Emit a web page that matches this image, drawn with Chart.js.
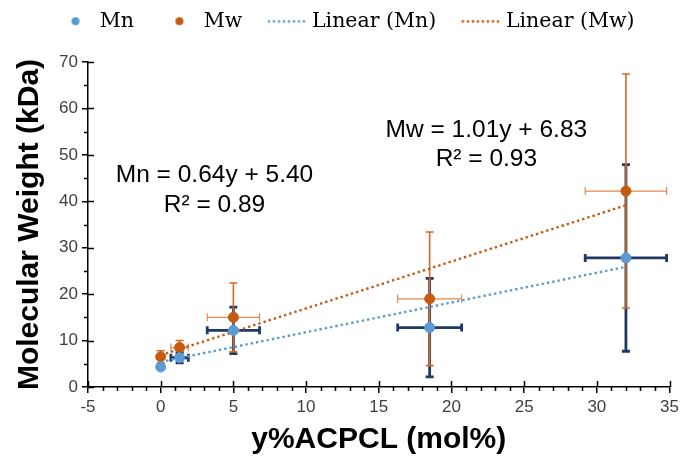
<!DOCTYPE html>
<html>
<head>
<meta charset="utf-8">
<script src="https://cdn.jsdelivr.net/npm/chart.js@4"></script>
<style>
  html, body { margin: 0; padding: 0; background: #fff; }
  #wrap { width: 683px; height: 458px; }
</style>
</head>
<body>
<div id="wrap"><canvas id="mwChart" width="683" height="458"></canvas></div>
<script>
// Molecular weight vs ACPCL content, with error bars and linear fits

const xValues = [0, 1.3, 5, 18.5, 32];           // y%ACPCL (mol%)
const mnValues = [4.3, 6.3, 12.2, 12.8, 27.8];   // Mn (kDa)
const mwValues = [6.5, 8.5, 15.0, 19.0, 42.2];   // Mw (kDa)
const xErrors = [0, 0.6, 1.8, 2.2, 2.8];         // +/- mol%
const mnYErrors = [0, 1.1, 5.0, 10.6, 20.1];     // +/- kDa
const mwYErrors = [1.3, 1.5, 7.4, 14.4, 25.2];   // +/- kDa

// Excel trendlines as printed on the chart
const mnFit = { slope: 0.64, intercept: 5.40, r2: "0.89" };
const mwFit = { slope: 1.01, intercept: 6.83, r2: "0.93" };
const fitRange = [0, 32];

const xTicks = [-5, 0, 5, 10, 15, 20, 25, 30, 35];
const yTicks = [0, 10, 20, 30, 40, 50, 60, 70];

const BLUE = "#5B9BD5";
const ORANGE = "#C55A11";
const NAVY = "#1F3864";

const toPoints = (ys) => xValues.map((x, i) => ({ x: x, y: ys[i] }));
const fitLine = (f) => fitRange.map(x => ({ x: x, y: f.slope * x + f.intercept }));

// small canvases used as legend symbols
const dotIcon = (color) => {
    const c = document.createElement("canvas");
    c.width = 12; c.height = 12;
    const g = c.getContext("2d");
    g.fillStyle = color;
    g.beginPath();
    g.arc(6, 6, 4, 0, Math.PI * 2);
    g.fill();
    return c;
};
const dotLineIcon = (color) => {
    // wider than the legend box so the dotted line sits close to its text
    const c = document.createElement("canvas");
    c.width = 76; c.height = 6;
    const g = c.getContext("2d");
    g.fillStyle = color;
    for (let x = 18; x < 56; x += 5) g.fillRect(x, 2, 2.4, 2.4);
    return c;
};

// legend spacing tweaks: gap below it and a small shift to the right
const legendSpacePlugin = {
    id: "legendSpace",
    beforeInit(chart) {
        const legend = chart.legend;
        const fit = legend.fit;
        legend.fit = function () {
            fit.bind(legend)();
            this.height = 82.5;
        };
        const draw = legend.draw;
        legend.draw = function () {
            const c = chart.ctx;
            c.save();
            c.translate(12, 0);
            draw.bind(legend)();
            c.restore();
        };
    }
};

// error bars drawn through the chart scales, Mn first then Mw
const errorBarPlugin = {
    id: "errorBars",
    beforeDatasetsDraw(chart) {
        const { ctx, scales: { x, y } } = chart;
        const drawSet = (ys, yErr, colorV, widthV, colorH, widthH, cap) => {
            ctx.save();
            ctx.lineCap = "butt";
            xValues.forEach((xv, i) => {
                const px = x.getPixelForValue(xv);
                const py = y.getPixelForValue(ys[i]);
                if (xErrors[i] > 0) {
                    const l = x.getPixelForValue(xv - xErrors[i]);
                    const r = x.getPixelForValue(xv + xErrors[i]);
                    ctx.strokeStyle = colorH; ctx.lineWidth = widthH;
                    ctx.beginPath();
                    ctx.moveTo(l, py); ctx.lineTo(r, py);
                    ctx.moveTo(l, py - cap); ctx.lineTo(l, py + cap);
                    ctx.moveTo(r, py - cap); ctx.lineTo(r, py + cap);
                    ctx.stroke();
                }
                if (yErr[i] > 0) {
                    const t = y.getPixelForValue(ys[i] + yErr[i]);
                    const b = y.getPixelForValue(ys[i] - yErr[i]);
                    ctx.strokeStyle = colorV; ctx.lineWidth = widthV;
                    ctx.beginPath();
                    ctx.moveTo(px, t); ctx.lineTo(px, b);
                    ctx.moveTo(px - cap, t); ctx.lineTo(px + cap, t);
                    ctx.moveTo(px - cap, b); ctx.lineTo(px + cap, b);
                    ctx.stroke();
                }
            });
            ctx.restore();
        };
        drawSet(mnValues, mnYErrors, NAVY, 2.8, NAVY, 2.8, 4);
        drawSet(mwValues, mwYErrors, "#D26A26", 1.6, "#E08A50", 1.2, 4);
    }
};

// inner half of major ticks and small minor ticks, like the Excel axes
const axisTickPlugin = {
    id: "axisTicks",
    afterDraw(chart) {
        const { ctx, scales: { x, y } } = chart;
        const axisY = y.getPixelForValue(0);
        const axisX = x.getPixelForValue(-5);
        ctx.save();
        ctx.strokeStyle = "#000";
        ctx.lineWidth = 1.5;
        ctx.beginPath();
        for (let v = -5; v <= 35; v += 1) {
            const px = Math.round(x.getPixelForValue(v)) + 0.5;
            if (v % 5 === 0) {
                ctx.moveTo(px, axisY); ctx.lineTo(px, axisY - 6);
            } else {
                ctx.moveTo(px, axisY); ctx.lineTo(px, axisY + 4);
            }
        }
        for (let v = 0; v <= 70; v += 5) {
            const py = Math.round(y.getPixelForValue(v)) + 0.5;
            if (v % 10 === 0) {
                ctx.moveTo(axisX, py); ctx.lineTo(axisX + 6, py);
            } else {
                ctx.moveTo(axisX, py); ctx.lineTo(axisX - 4, py);
            }
        }
        ctx.stroke();
        ctx.restore();
    }
};

// fit equations placed in data coordinates
const equationPlugin = {
    id: "equations",
    afterDraw(chart) {
        const { ctx, scales: { x, y } } = chart;
        ctx.save();
        ctx.fillStyle = "#000";
        ctx.font = "24.5px 'Liberation Sans', Arial, sans-serif";
        ctx.textAlign = "center";
        ctx.textBaseline = "middle";
        const put = (txt, xv, yv) => ctx.fillText(txt, x.getPixelForValue(xv), y.getPixelForValue(yv));
        put("Mn = " + mnFit.slope.toFixed(2) + "y + " + mnFit.intercept.toFixed(2), 3.7, 45.6);
        put("R² = " + mnFit.r2, 3.7, 39.1);
        put("Mw = " + mwFit.slope.toFixed(2) + "y + " + mwFit.intercept.toFixed(2), 22.4, 55.4);
        put("R² = " + mwFit.r2, 22.4, 49.0);
        ctx.restore();
    }
};

const ctx = document.getElementById("mwChart").getContext("2d");
const mwChart = new Chart(ctx, {
    type: "scatter",
    data: {
        datasets: [
            {
                label: "Mn",
                data: toPoints(mnValues),
                backgroundColor: BLUE,
                borderColor: BLUE,
                pointRadius: 5,
                pointStyle: "circle",
                order: 1
            },
            {
                label: "Mw",
                data: toPoints(mwValues),
                backgroundColor: ORANGE,
                borderColor: ORANGE,
                pointRadius: 5,
                pointStyle: "circle",
                order: 2
            },
            {
                label: "Linear (Mn)",
                type: "line",
                data: fitLine(mnFit),
                borderColor: BLUE,
                borderWidth: 2.4,
                borderDash: [2.4, 3],
                pointRadius: 0,
                fill: false,
                order: 3
            },
            {
                label: "Linear (Mw)",
                type: "line",
                data: fitLine(mwFit),
                borderColor: ORANGE,
                borderWidth: 2.4,
                borderDash: [2.4, 3],
                pointRadius: 0,
                fill: false,
                order: 4
            }
        ]
    },
    options: {
        responsive: false,
        animation: false,
        layout: { padding: { top: -20.5, right: 11, left: 0, bottom: 0 } },
        plugins: {
            tooltip: { enabled: false },
            legend: {
                position: "top",
                labels: {
                    usePointStyle: true,
                    pointStyleWidth: 28,
                    padding: 31.5,
                    color: "#000",
                    font: { family: "'DejaVu Serif', 'Liberation Serif', serif", size: 20.5 },
                    generateLabels: (chart) => chart.data.datasets.map((ds, i) => ({
                        text: ds.label,
                        datasetIndex: i,
                        fontColor: "#000",
                        lineWidth: 0,
                        strokeStyle: "transparent",
                        fillStyle: "transparent",
                        pointStyle: i < 2 ? dotIcon(ds.borderColor) : dotLineIcon(ds.borderColor)
                    }))
                }
            }
        },
        scales: {
            x: {
                type: "linear",
                min: -5,
                max: 35,
                afterBuildTicks: (axis) => { axis.ticks = xTicks.map(v => ({ value: v })); },
                afterFit: (axis) => { axis.height = 71; },
                ticks: { color: "#404040", font: { family: "'Liberation Sans', Arial, sans-serif", size: 17 }, padding: 4 },
                grid: { display: true, drawOnChartArea: false, drawTicks: true, tickLength: 6, color: "#000", lineWidth: 1.5 },
                border: { display: true, color: "#000", width: 1.5 },
                title: {
                    display: true,
                    text: "y%ACPCL (mol%)",
                    color: "#000",
                    font: { family: "'Liberation Sans', Arial, sans-serif", size: 30, weight: "bold" },
                    padding: { top: 0, bottom: 0 }
                }
            },
            y: {
                type: "linear",
                min: 0,
                max: 70,
                afterBuildTicks: (axis) => { axis.ticks = yTicks.map(v => ({ value: v })); },
                afterFit: (axis) => { axis.width = 88; },
                ticks: { color: "#404040", font: { family: "'Liberation Sans', Arial, sans-serif", size: 17 }, padding: 4 },
                grid: { display: true, drawOnChartArea: false, drawTicks: true, tickLength: 6, color: "#000", lineWidth: 1.5 },
                border: { display: true, color: "#000", width: 1.5 },
                title: {
                    display: true,
                    text: "Molecular Weight (kDa)",
                    color: "#000",
                    font: { family: "'Liberation Sans', Arial, sans-serif", size: 30, weight: "bold" },
                    padding: { top: 12, bottom: 0 }
                }
            }
        }
    },
    plugins: [legendSpacePlugin, errorBarPlugin, axisTickPlugin, equationPlugin]
});
</script>
</body>
</html>
